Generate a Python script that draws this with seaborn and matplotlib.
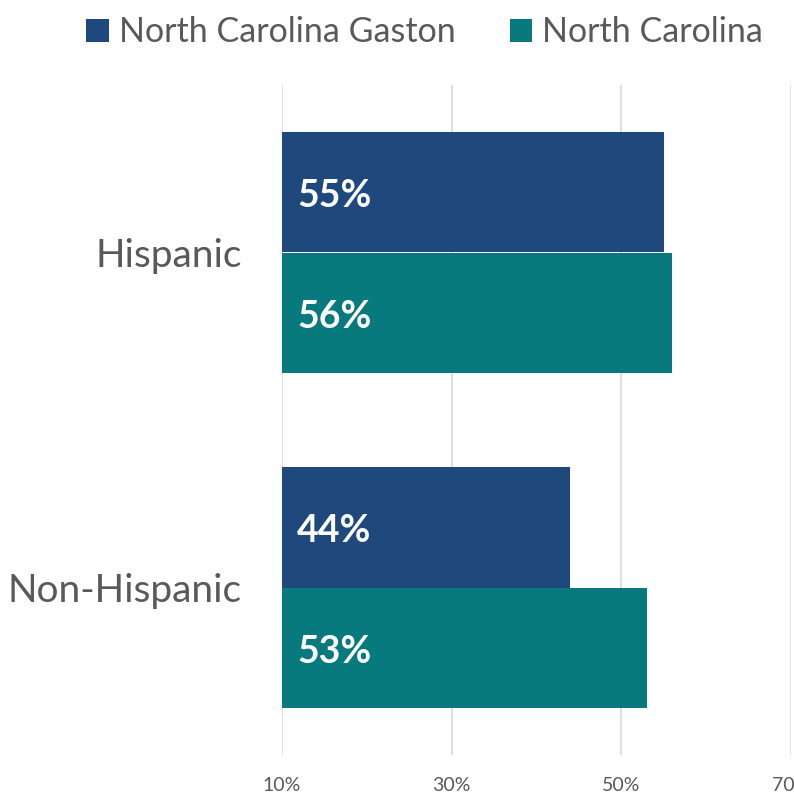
import pandas as pd
import matplotlib
matplotlib.use('Agg')
import matplotlib.pyplot as plt
import seaborn as sns
from matplotlib.patches import Patch

# Data
categories = ['Hispanic', 'Non-Hispanic']
series_names = ['North Carolina Gaston', 'North Carolina']
gaston_values = [55, 44]
nc_values = [56, 53]
tick_values = [10, 30, 50, 70]
colors = ['#1F487C', '#08797C']

df = pd.DataFrame({
    'group': categories * 2,
    'series': [series_names[0]] * 2 + [series_names[1]] * 2,
    'value': gaston_values + nc_values,
})

sns.set_style('white')
plt.rcParams['font.family'] = ['Lato', 'DejaVu Sans']

fig = plt.figure(figsize=(7.94, 7.99), dpi=100)
ax = fig.add_axes([282 / 794, 1 - 755 / 799, (791 - 282) / 794, (755 - 85) / 799])

sns.barplot(data=df, y='group', x='value', hue='series', orient='h',
            palette=colors, saturation=1, width=0.72, ax=ax, legend=False, zorder=3)

# bars start at the axis minimum (10%)
for patch in ax.patches:
    w = patch.get_width()
    patch.set_x(10)
    patch.set_width(w - 10)
    patch.set_edgecolor('none')

ax.set_xlim(10, 70)
ax.set_ylim(1.5, -0.5)
ax.set_xticks(tick_values)
ax.set_xticklabels([f'{v}%' for v in tick_values], fontsize=14, color='#595959')
ax.tick_params(axis='x', length=0, pad=16)
ax.tick_params(axis='y', length=0, pad=29, labelsize=28, labelcolor='#595959')
ax.set_xlabel('')
ax.set_ylabel('')
ax.grid(axis='x', color='#D9D9D9', linewidth=1.2, zorder=0)
for s in ax.spines.values():
    s.set_visible(False)

# value labels inside bars
for container in ax.containers:
    for patch, val in zip(container.patches, container.datavalues):
        ax.annotate(f'{val:.0f}%', xy=(10, patch.get_y() + patch.get_height() / 2),
                    xytext=(11, -3), textcoords='offset points',
                    ha='left', va='center', color='white',
                    fontsize=27, fontweight='bold')

handles = [Patch(facecolor=c, edgecolor='none') for c in colors]
fig.legend(handles, series_names, loc='upper center', bbox_to_anchor=(0.535, 1.018),
           ncol=2, frameon=False, fontsize=24.5, labelcolor='#595959',
           handlelength=0.65, handleheight=0.65, handletextpad=0.3, columnspacing=1.6)

fig.savefig('out.png', dpi=100)
